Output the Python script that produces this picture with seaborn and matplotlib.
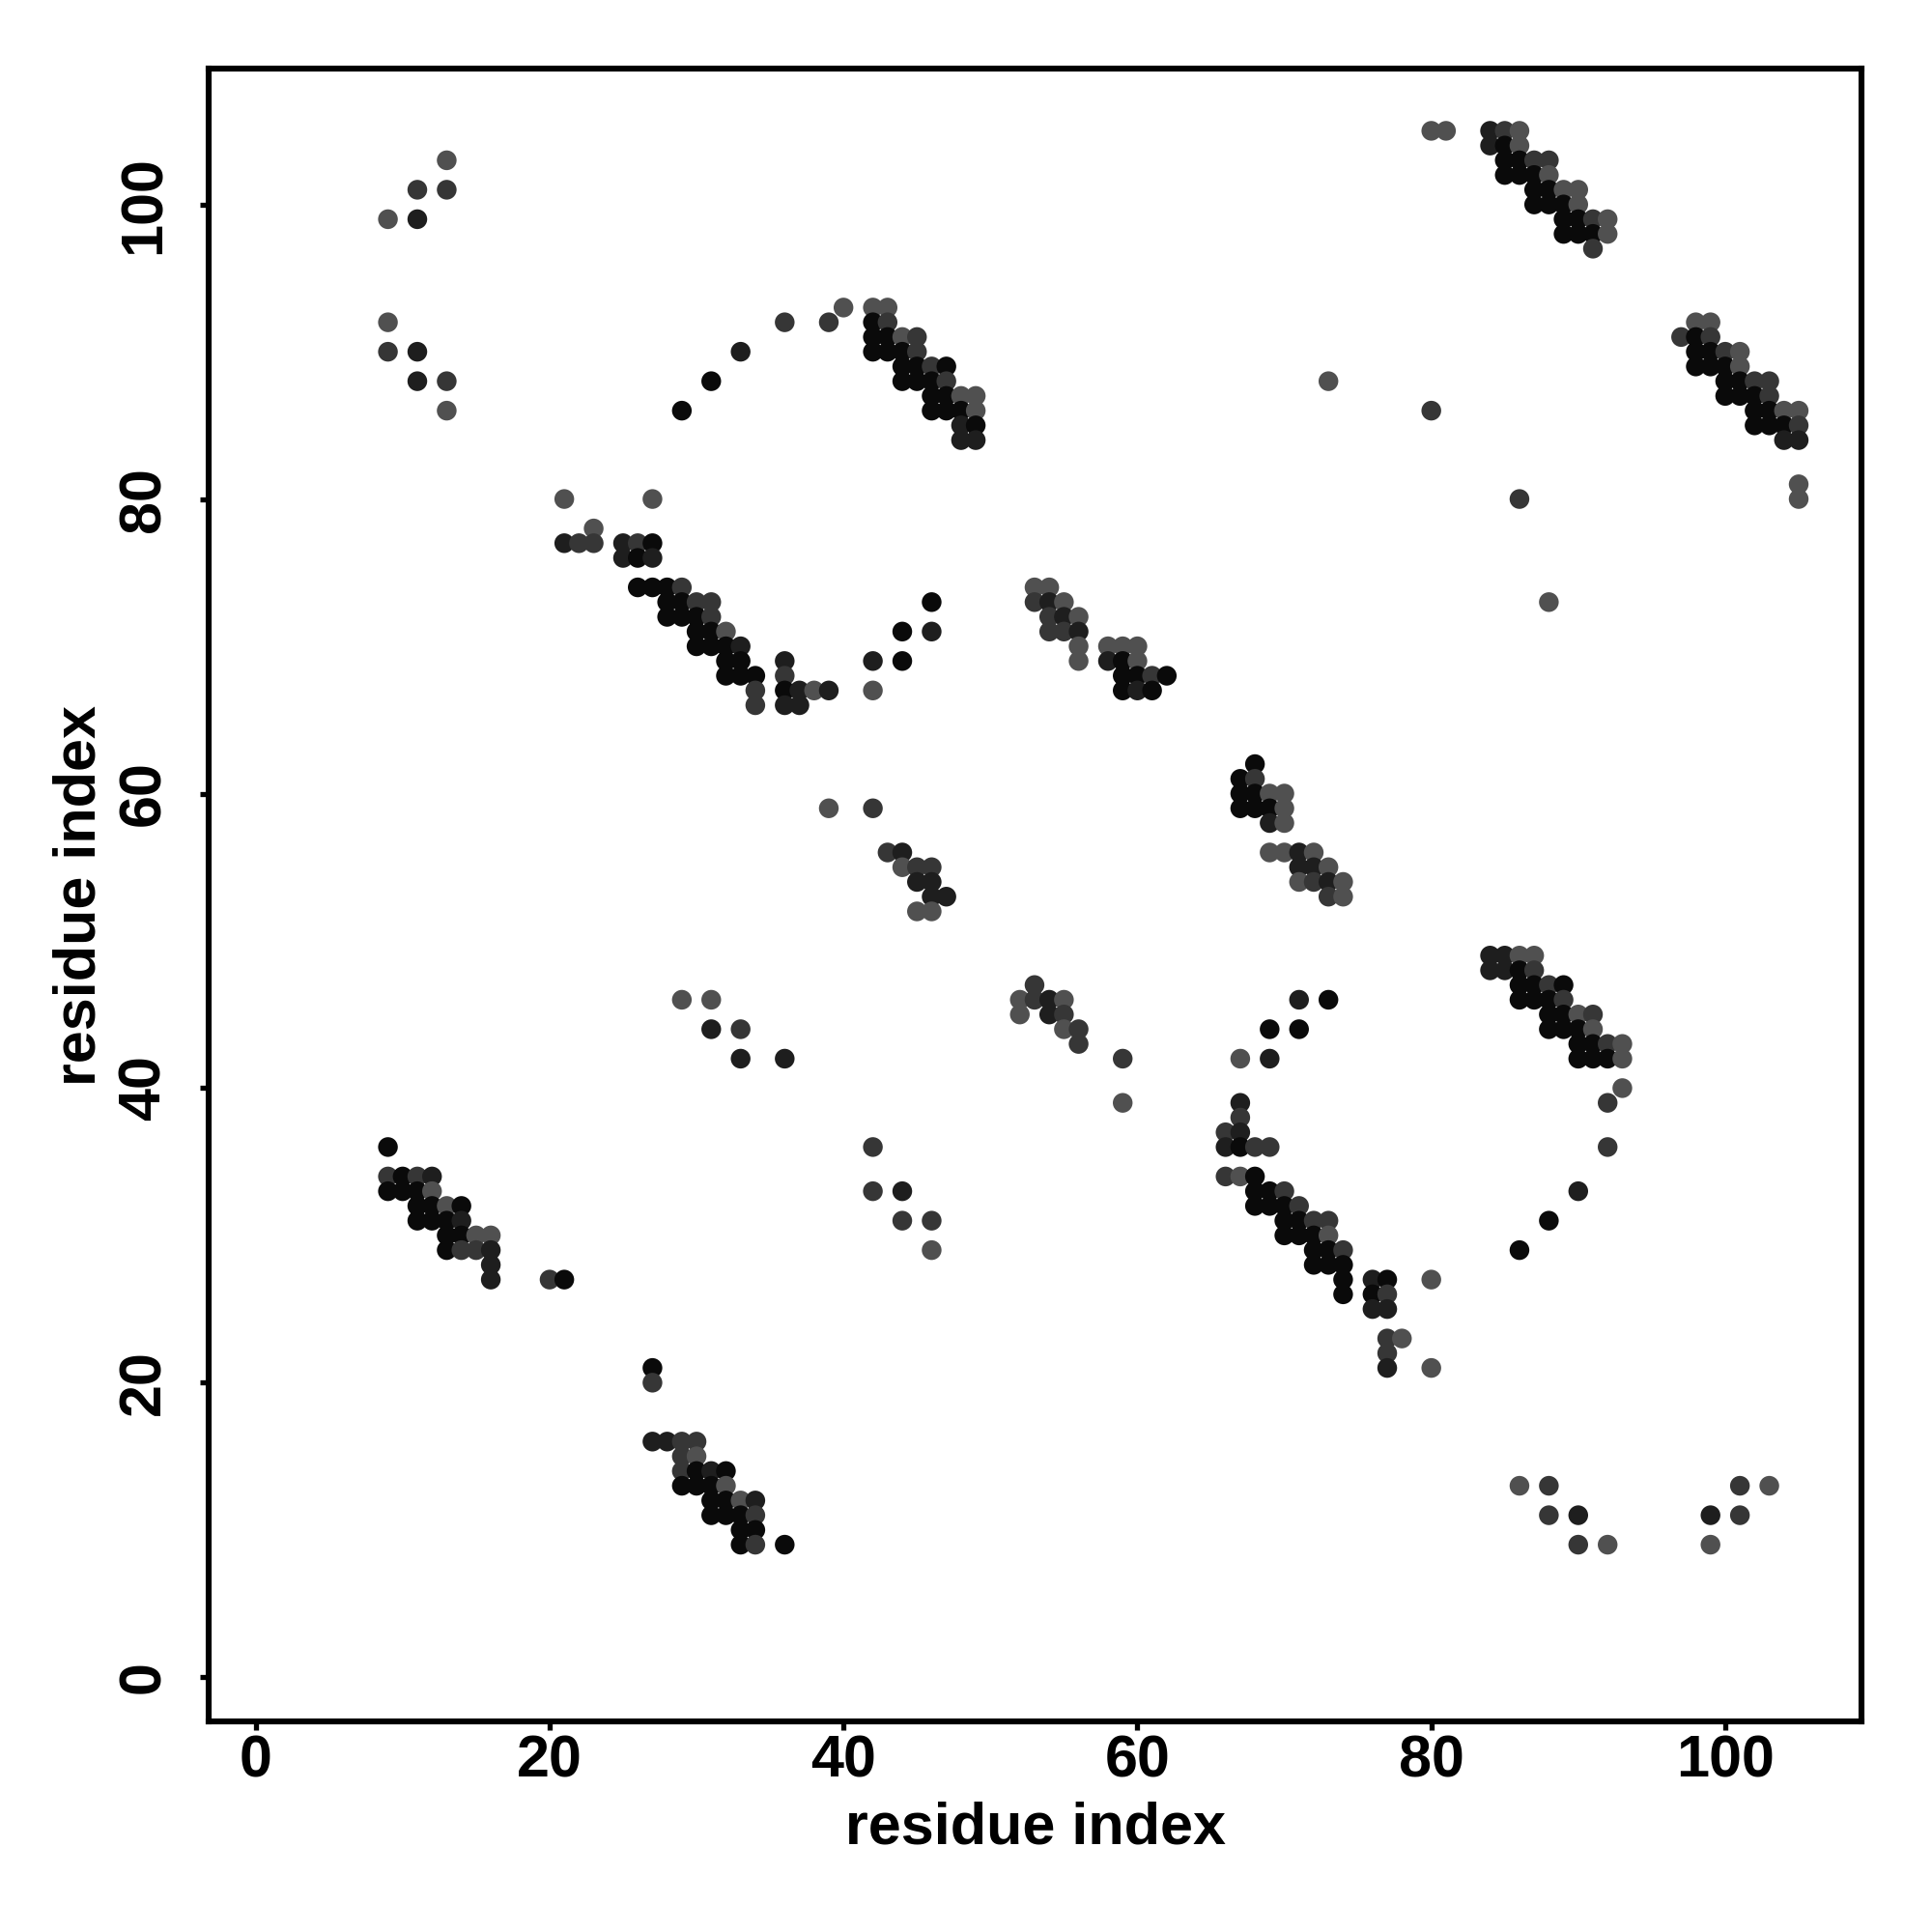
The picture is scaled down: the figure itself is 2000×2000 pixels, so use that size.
"""Residue contact map: predicted contacts shaded by confidence."""

import matplotlib
matplotlib.use("Agg")
import matplotlib.pyplot as plt
import pandas as pd
import seaborn as sns

# contacts as (residue i, residue j, shade level)
# shade: 0 = black, 1 = very dark, 2 = dark grey, 3 = grey
group_upper_left = [
    (13, 103, 3), (11, 101, 2), (13, 101, 2), (9, 99, 3), (11, 99, 1),
    (9, 92, 3), (9, 90, 2), (11, 90, 1), (11, 88, 1), (13, 88, 2), (13, 86, 3),
]
arc_upper = [
    (29, 86, 0), (31, 88, 0), (33, 90, 1), (36, 92, 2), (39, 92, 2), (40, 93, 3),
]
strand_42_93 = [
    (42, 93, 3), (43, 93, 3),
    (42, 92, 0), (43, 92, 2),
    (42, 91, 0), (43, 91, 0), (44, 91, 3), (45, 91, 2),
    (42, 90, 0), (43, 90, 0), (44, 90, 0), (45, 90, 2),
    (44, 89, 0), (45, 89, 0), (46, 89, 2), (47, 89, 0),
    (44, 88, 0), (45, 88, 0), (46, 88, 0), (47, 88, 2),
    (46, 87, 0), (47, 87, 0), (48, 87, 3), (49, 87, 3),
    (46, 86, 0), (47, 86, 0), (48, 86, 0), (49, 86, 3),
    (48, 85, 1), (49, 85, 0),
    (48, 84, 1), (49, 84, 1),
]
strand_21_80 = [
    (21, 80, 3), (27, 80, 3),
    (23, 78, 3),
    (21, 77, 1), (22, 77, 2), (23, 77, 2), (25, 77, 1), (26, 77, 2), (27, 77, 0),
    (25, 76, 1), (26, 76, 0), (27, 76, 1),
    (26, 74, 0), (27, 74, 0), (28, 74, 0), (29, 74, 2),
    (28, 73, 0), (29, 73, 0), (30, 73, 2), (31, 73, 2),
    (28, 72, 0), (29, 72, 0), (30, 72, 0), (31, 72, 2),
    (30, 71, 0), (31, 71, 0), (32, 71, 3),
    (30, 70, 0), (31, 70, 0), (32, 70, 0), (33, 70, 1),
    (32, 69, 0), (33, 69, 0), (36, 69, 1),
    (32, 68, 0), (33, 68, 0), (34, 68, 0), (36, 68, 2),
    (34, 67, 2), (36, 67, 0), (37, 67, 1), (38, 67, 3), (39, 67, 1),
    (34, 66, 2), (36, 66, 1), (37, 66, 1),
    (42, 69, 1), (44, 69, 0), (42, 67, 3), (46, 73, 0), (44, 71, 0), (46, 71, 1),
]
strand_53_74 = [
    (53, 74, 3), (54, 74, 3),
    (53, 73, 2), (54, 73, 1), (55, 73, 3),
    (54, 72, 2), (55, 72, 1), (56, 72, 3),
    (54, 71, 2), (55, 71, 2), (56, 71, 1),
    (56, 70, 3), (58, 70, 3), (59, 70, 3), (60, 70, 3),
    (56, 69, 3), (58, 69, 1), (59, 69, 0), (60, 69, 3),
    (59, 68, 0), (60, 68, 0), (61, 68, 2), (62, 68, 0),
    (59, 67, 0), (60, 67, 1), (61, 67, 0),
]
lone_contacts = [(73, 88, 3), (80, 86, 2), (86, 80, 2), (88, 73, 3)]
strand_80_105 = [
    (80, 105, 3), (81, 105, 3), (84, 105, 1), (85, 105, 2), (86, 105, 3),
    (84, 104, 1), (85, 104, 0), (86, 104, 3),
    (85, 103, 0), (86, 103, 0), (87, 103, 2), (88, 103, 2),
    (85, 102, 0), (86, 102, 0), (87, 102, 0), (88, 102, 3),
    (87, 101, 0), (88, 101, 0), (89, 101, 3), (90, 101, 3),
    (87, 100, 0), (88, 100, 0), (89, 100, 0), (90, 100, 3),
    (89, 99, 0), (90, 99, 0), (91, 99, 2), (92, 99, 3),
    (89, 98, 0), (90, 98, 0), (91, 98, 0), (92, 98, 3),
    (91, 97, 2),
]
strand_97_92 = [
    (98, 92, 3), (99, 92, 3),
    (97, 91, 2), (98, 91, 0), (99, 91, 2),
    (98, 90, 0), (99, 90, 0), (100, 90, 2), (101, 90, 3),
    (98, 89, 0), (99, 89, 0), (100, 89, 0), (101, 89, 3),
    (100, 88, 0), (101, 88, 0), (102, 88, 2), (103, 88, 2),
    (100, 87, 0), (101, 87, 0), (102, 87, 0), (103, 87, 2),
    (102, 86, 0), (103, 86, 0), (104, 86, 3), (105, 86, 3),
    (102, 85, 0), (103, 85, 0), (104, 85, 0), (105, 85, 2),
    (104, 84, 1), (105, 84, 1),
    (105, 81, 3), (105, 80, 3),
]
strand_67_62 = [
    (68, 62, 0),
    (67, 61, 0), (68, 61, 2),
    (67, 60, 0), (68, 60, 0), (69, 60, 3), (70, 60, 3),
    (67, 59, 0), (68, 59, 0), (69, 59, 0), (70, 59, 3),
    (69, 58, 1), (70, 58, 3),
    (69, 56, 3), (70, 56, 3), (71, 56, 1), (72, 56, 3),
    (71, 55, 1), (72, 55, 1), (73, 55, 3),
    (71, 54, 3), (72, 54, 2), (73, 54, 1), (74, 54, 3),
    (73, 53, 2), (74, 53, 3),
]
group_39_59 = [
    (39, 59, 3), (42, 59, 2),
    (43, 56, 2), (44, 56, 1),
    (44, 55, 3), (45, 55, 2), (46, 55, 2),
    (45, 54, 1), (46, 54, 1),
    (46, 53, 1), (47, 53, 1),
    (45, 52, 3), (46, 52, 3),
]
group_52_47 = [
    (53, 47, 2),
    (52, 46, 3), (53, 46, 2), (54, 46, 1), (55, 46, 3),
    (52, 45, 3), (54, 45, 1), (55, 45, 2),
    (55, 44, 3), (56, 44, 2),
    (56, 43, 2),
    (59, 42, 2), (59, 39, 3),
    (71, 46, 1), (73, 46, 0), (69, 44, 0), (71, 44, 0), (67, 42, 3), (69, 42, 1),
]
strand_66_39 = [
    (67, 39, 1),
    (67, 38, 2),
    (66, 37, 2), (67, 37, 1),
    (66, 36, 1), (67, 36, 0), (68, 36, 2), (69, 36, 2),
    (66, 34, 2), (67, 34, 3), (68, 34, 0),
    (68, 33, 0), (69, 33, 0), (70, 33, 2),
    (68, 32, 0), (69, 32, 0), (70, 32, 0), (71, 32, 2),
    (70, 31, 0), (71, 31, 0), (72, 31, 2), (73, 31, 2),
    (70, 30, 0), (71, 30, 0), (72, 30, 0), (73, 30, 3),
    (72, 29, 0), (73, 29, 0), (74, 29, 2),
    (72, 28, 0), (73, 28, 0), (74, 28, 0),
    (74, 27, 0), (76, 27, 1), (77, 27, 0), (80, 27, 3),
    (74, 26, 0), (76, 26, 0), (77, 26, 2),
    (76, 25, 1), (77, 25, 1),
    (77, 23, 2), (78, 23, 3),
    (77, 22, 2),
    (77, 21, 1), (80, 21, 3),
]
strand_84_49 = [
    (84, 49, 1), (85, 49, 1), (86, 49, 3), (87, 49, 3),
    (84, 48, 1), (85, 48, 1), (86, 48, 0), (87, 48, 2),
    (86, 47, 0), (87, 47, 0), (88, 47, 2), (89, 47, 0),
    (86, 46, 0), (87, 46, 0), (88, 46, 0), (89, 46, 2),
    (88, 45, 0), (89, 45, 0), (90, 45, 3), (91, 45, 2),
    (88, 44, 0), (89, 44, 0), (90, 44, 0), (91, 44, 3),
    (90, 43, 0), (91, 43, 0), (92, 43, 2), (93, 43, 3),
    (90, 42, 0), (91, 42, 0), (92, 42, 0), (93, 42, 3),
    (93, 40, 3), (92, 39, 2), (92, 36, 2), (90, 33, 1), (88, 31, 0), (86, 29, 0),
]
strand_9_36 = [
    (9, 36, 0),
    (9, 34, 2), (10, 34, 0), (11, 34, 2), (12, 34, 1),
    (9, 33, 0), (10, 33, 0), (11, 33, 0), (12, 33, 3),
    (11, 32, 0), (12, 32, 0), (13, 32, 3), (14, 32, 0),
    (11, 31, 0), (12, 31, 0), (13, 31, 0), (14, 31, 1),
    (13, 30, 0), (14, 30, 0), (15, 30, 3), (16, 30, 3),
    (13, 29, 0), (14, 29, 2), (15, 29, 2), (16, 29, 1),
    (16, 28, 1),
    (16, 27, 1), (20, 27, 2), (21, 27, 0),
]
scattered_middle = [
    (29, 46, 3), (31, 46, 3), (31, 44, 1), (33, 44, 2), (33, 42, 1), (36, 42, 1),
    (42, 36, 2), (42, 33, 2), (44, 33, 1), (44, 31, 2), (46, 31, 2), (46, 29, 3),
    (27, 21, 0), (27, 20, 2),
]
strand_27_16 = [
    (27, 16, 1), (28, 16, 1), (29, 16, 2), (30, 16, 2),
    (29, 15, 2), (30, 15, 3),
    (29, 14, 2), (30, 14, 0), (31, 14, 1), (32, 14, 0),
    (29, 13, 0), (30, 13, 0), (31, 13, 0), (32, 13, 3),
    (31, 12, 0), (32, 12, 0), (33, 12, 3), (34, 12, 1),
    (31, 11, 0), (32, 11, 0), (33, 11, 0), (34, 11, 2),
    (33, 10, 0), (34, 10, 0),
    (33, 9, 0), (34, 9, 2), (36, 9, 0),
]
group_lower_right = [
    (86, 13, 3), (88, 13, 2), (101, 13, 2), (103, 13, 3),
    (88, 11, 2), (90, 11, 1), (99, 11, 1), (101, 11, 2),
    (90, 9, 2), (92, 9, 3), (99, 9, 3),
]

shade_colors = {0: "#0a0a0a", 1: "#1e1e1e", 2: "#363636", 3: "#505050"}

groups = [group_upper_left, arc_upper, strand_42_93, strand_21_80, strand_53_74,
          lone_contacts, strand_80_105, strand_97_92, strand_67_62, group_39_59,
          group_52_47, strand_66_39, strand_84_49, strand_9_36, scattered_middle,
          strand_27_16, group_lower_right]
df = pd.DataFrame([c for g in groups for c in g], columns=["i", "j", "shade"])

sns.set_theme(style="white")
plt.rcParams["font.family"] = ["Liberation Sans", "DejaVu Sans"]
plt.rcParams["font.weight"] = "bold"
plt.rcParams["text.color"] = "black"
plt.rcParams["axes.labelcolor"] = "black"
plt.rcParams["xtick.color"] = "black"
plt.rcParams["ytick.color"] = "black"

fig, ax = plt.subplots(figsize=(10, 10), dpi=200)
fig.subplots_adjust(left=0.108, right=0.9637, bottom=0.109, top=0.9643)

sns.scatterplot(data=df, x="i", y="j", hue="shade", palette=shade_colors,
                s=54, linewidth=0, legend=False, ax=ax)

ax.set_xlim(-3.2, 109.3)
ax.set_ylim(-3.0, 109.2)
ax.set_xticks(range(0, 101, 20))
ax.set_yticks(range(0, 101, 20))

for side in ["left", "right", "top", "bottom"]:
    ax.spines[side].set_visible(True)
    ax.spines[side].set_color("black")
    ax.spines[side].set_linewidth(2.2)

ax.tick_params(axis="both", which="major", direction="out", length=3.3,
               width=1.9, color="black", labelcolor="black", labelsize=22,
               bottom=True, left=True)
ax.tick_params(axis="x", pad=1.5)
ax.tick_params(axis="y", pad=10.3, labelrotation=90)
for lab in ax.get_yticklabels():
    lab.set_va("center")
for lab in ax.get_xticklabels() + ax.get_yticklabels():
    lab.set_fontweight("bold")

ax.set_xlabel("residue index", fontsize=22, fontweight="bold", labelpad=4.5,
              color="black")
ax.set_ylabel("residue index", fontsize=22, fontweight="bold", labelpad=3.5,
              color="black")
ax.grid(False)

fig.savefig("out.png", dpi=200, facecolor="white")
plt.close(fig)
